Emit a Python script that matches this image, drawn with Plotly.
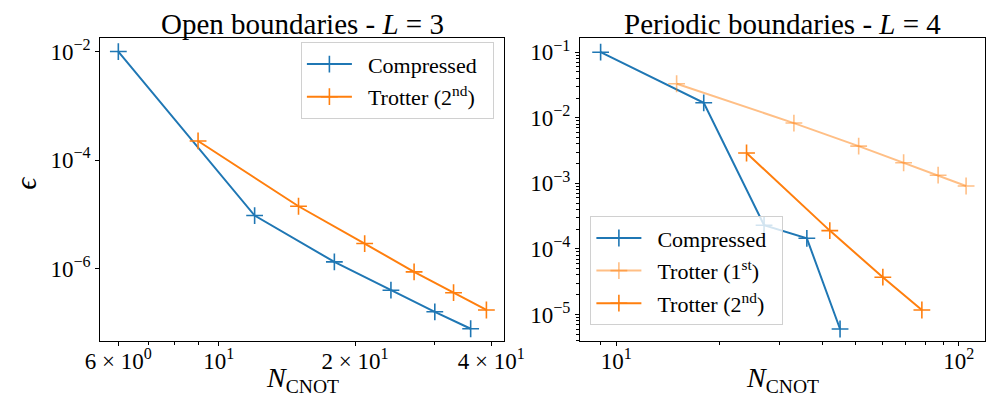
import plotly.graph_objects as go

# ---- data: Open boundaries, L = 3 ----
open_comp_x = [6, 12, 18, 24, 30, 36]
open_comp_y = [1.0e-2, 9.5e-6, 1.33e-6, 4.0e-7, 1.6e-7, 7.8e-8]
open_trot2_x = [9, 15, 21, 27, 33, 39]
open_trot2_y = [2.25e-4, 1.41e-5, 2.9e-6, 8.7e-7, 3.6e-7, 1.73e-7]

# ---- data: Periodic boundaries, L = 4 ----
per_comp_x = [9, 18, 27, 36, 45]
per_comp_y = [0.1, 1.69e-2, 2.3e-4, 1.45e-4, 6.0e-6]
per_trot1_x = [15, 33, 51, 69, 87, 105]
per_trot1_y = [3.3e-2, 8.3e-3, 3.7e-3, 2.06e-3, 1.33e-3, 9.1e-4]
per_trot2_x = [24, 42, 60, 78]
per_trot2_y = [2.9e-3, 1.9e-4, 3.7e-5, 1.17e-5]

left_xticks = [6, 10, 20, 40]
left_xticktext = ["6 × 10<sup>0</sup>", "10<sup>1</sup>", "2 × 10<sup>1</sup>", "4 × 10<sup>1</sup>"]
left_xminor = [7, 8, 9, 30]
left_yticks = [1e-2, 1e-4, 1e-6]
left_yticktext = ["10<sup>−2</sup>", "10<sup>−4</sup>", "10<sup>−6</sup>"]

right_xticks = [10, 100]
right_xticktext = ["10<sup>1</sup>", "10<sup>2</sup>"]
right_xminor = [9, 20, 30, 40, 50, 60, 70, 80, 90]
right_yticks = [1e-1, 1e-2, 1e-3, 1e-4, 1e-5]
right_yticktext = ["10<sup>−1</sup>", "10<sup>−2</sup>", "10<sup>−3</sup>", "10<sup>−4</sup>", "10<sup>−5</sup>"]
right_yminor = [m * 10.0 ** e for e in range(-6, 0) for m in range(2, 10)]

BLUE = "#1f77b4"
ORANGE = "#ff7f0e"
LIGHT = "rgba(255,127,14,0.5)"
FONT = "Liberation Serif"
NB = "\u00a0"

fig = go.Figure()


def add(x, y, color, name, xa, ya, legend, group):
    fig.add_trace(go.Scatter(
        x=x, y=y, mode="lines+markers", name=NB * 2 + name + NB * 2,
        line=dict(color=color, width=2),
        marker=dict(symbol="cross-thin", size=12, line=dict(color=color, width=1.6)),
        xaxis=xa, yaxis=ya, legend=legend, legendgroup=group,
    ))


add(open_comp_x, open_comp_y, BLUE, "Compressed", "x", "y", "legend", "a1")
add(open_trot2_x, open_trot2_y, ORANGE, "Trotter (2<sup>nd</sup>)", "x", "y", "legend", "a2")
add(per_comp_x, per_comp_y, BLUE, "Compressed", "x2", "y2", "legend2", "b1")
add(per_trot1_x, per_trot1_y, LIGHT, "Trotter (1<sup>st</sup>)", "x2", "y2", "legend2", "b2")
add(per_trot2_x, per_trot2_y, ORANGE, "Trotter (2<sup>nd</sup>)", "x2", "y2", "legend2", "b3")

axis_common = dict(
    type="log", showgrid=False, zeroline=False, showline=True, mirror=True,
    linecolor="black", linewidth=1, ticks="outside", ticklen=4, tickcolor="black",
    tickfont=dict(family=FONT, size=23, color="black"), tickmode="array",
)

legend_common = dict(
    bgcolor="rgba(255,255,255,0.8)", bordercolor="#d0d0d0", borderwidth=1,
    font=dict(family=FONT, size=22, color="black"), tracegroupgap=1, itemwidth=45,
)

fig.update_layout(
    width=997, height=396,
    margin=dict(l=0, r=0, t=0, b=0),
    paper_bgcolor="white", plot_bgcolor="white",
    font=dict(family=FONT, color="black"),
    xaxis=dict(axis_common, domain=[0.0802, 0.5005], anchor="y", ticklabelstandoff=-5,
               range=[0.738, 1.631], tickvals=left_xticks, ticktext=left_xticktext,
               minor=dict(tickmode="array", tickvals=left_xminor, ticks="outside",
                          ticklen=2.5, tickcolor="black", showgrid=False)),
    yaxis=dict(axis_common, domain=[0.159, 0.929], anchor="x",
               range=[-7.34, -1.75], tickvals=left_yticks, ticktext=left_yticktext),
    xaxis2=dict(axis_common, domain=[0.579, 0.9995], anchor="y2", ticklabelstandoff=-5,
                range=[0.894, 2.075], tickvals=right_xticks, ticktext=right_xticktext,
                minor=dict(tickmode="array", tickvals=right_xminor, ticks="outside",
                           ticklen=2.5, tickcolor="black", showgrid=False)),
    yaxis2=dict(axis_common, domain=[0.159, 0.929], anchor="x2",
                range=[-5.41, -0.783], tickvals=right_yticks, ticktext=right_yticktext,
                minor=dict(tickmode="array", tickvals=right_yminor, ticks="outside",
                           ticklen=2.5, tickcolor="black", showgrid=False)),
    legend=dict(legend_common, x=0.4895, y=0.918, xanchor="right", yanchor="top"),
    legend2=dict(legend_common, x=0.5898, y=0.2, xanchor="left", yanchor="bottom"),
    showlegend=True,
)

annotations = [
    dict(text="Open boundaries - <i>L</i> = 3", x=0.2903, y=1.0, xref="paper", yref="paper",
         xanchor="center", yanchor="top", showarrow=False, yshift=4,
         font=dict(family=FONT, size=29, color="black")),
    dict(text="Periodic boundaries - <i>L</i> = 4", x=0.789, y=1.0, xref="paper", yref="paper",
         xanchor="center", yanchor="top", showarrow=False, yshift=4,
         font=dict(family=FONT, size=29, color="black")),
    dict(text="<i>N</i><sub>CNOT</sub>", x=0.2903, y=0.0, xref="paper", yref="paper",
         xanchor="center", yanchor="bottom", showarrow=False, yshift=5,
         font=dict(family=FONT, size=28, color="black")),
    dict(text="<i>N</i><sub>CNOT</sub>", x=0.789, y=0.0, xref="paper", yref="paper",
         xanchor="center", yanchor="bottom", showarrow=False, yshift=5,
         font=dict(family=FONT, size=28, color="black")),
    dict(text="<i>ϵ</i>", x=0.0, y=0.56, xref="paper", yref="paper",
         xanchor="left", yanchor="middle", showarrow=False, textangle=-90, xshift=-16,
         font=dict(family=FONT, size=30, color="black")),
]
fig.update_layout(annotations=annotations)

fig.write_html("out.html")
